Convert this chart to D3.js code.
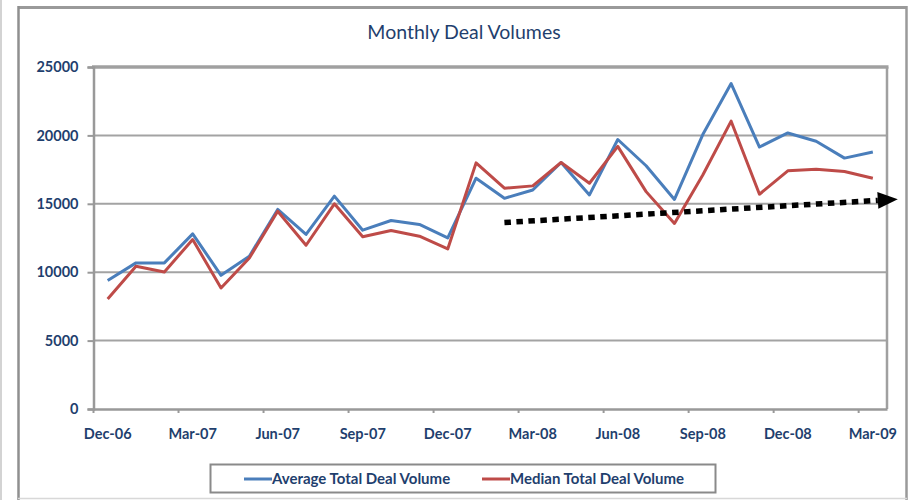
<!DOCTYPE html>
<html><head><meta charset="utf-8">
<script src="https://cdn.jsdelivr.net/npm/d3@7"></script>
<style>html,body{margin:0;padding:0;background:#fff}svg{display:block}</style>
</head><body>
<svg id="chart" width="911" height="500"></svg>
<script>
const months = ["Dec-06","Jan-07","Feb-07","Mar-07","Apr-07","May-07","Jun-07","Jul-07","Aug-07","Sep-07","Oct-07","Nov-07",
  "Dec-07","Jan-08","Feb-08","Mar-08","Apr-08","May-08","Jun-08","Jul-08","Aug-08","Sep-08","Oct-08","Nov-08",
  "Dec-08","Jan-09","Feb-09","Mar-09"];
const avgVolume = [9400,10680,10680,12800,9770,11170,14590,12760,15560,13070,13780,13490,
  12510,16870,15400,16010,18020,15650,19700,17780,15320,20060,23790,19150,20180,19570,18340,18790];
const medianVolume = [8040,10430,10020,12390,8850,11040,14460,11970,15000,12590,13050,12630,
  11700,17990,16140,16310,18020,16500,19200,15890,13560,17110,21040,15700,17410,17530,17360,16870];
const yTicks = [0,5000,10000,15000,20000,25000];
const xTickLabels = ["Dec-06","Mar-07","Jun-07","Sep-07","Dec-07","Mar-08","Jun-08","Sep-08","Dec-08","Mar-09"];
const seriesNames = ["Average Total Deal Volume","Median Total Deal Volume"];
const trendMonths = ["Feb-08","Mar-09"];
const trendValues = [13630,15250];

const svg = d3.select("#chart");
const navy = "#1f3f6e";
const font = "Lato, 'Open Sans', sans-serif";

// outer frame
svg.append("line").attr("x1",1).attr("x2",1).attr("y1",0).attr("y2",500).attr("stroke","#c4c4c4").attr("stroke-width",1.5);
svg.append("line").attr("x1",18).attr("x2",907).attr("y1",7.5).attr("y2",7.5).attr("stroke","#9a9a9a").attr("stroke-width",3);
svg.append("line").attr("x1",18.5).attr("x2",18.5).attr("y1",6).attr("y2",500).attr("stroke","#8f8f8f").attr("stroke-width",2.5);
svg.append("line").attr("x1",906.5).attr("x2",906.5).attr("y1",6).attr("y2",500).attr("stroke","#9a9a9a").attr("stroke-width",2.5);
svg.append("line").attr("x1",18).attr("x2",907).attr("y1",498.5).attr("y2",498.5).attr("stroke","#d8d8d8").attr("stroke-width",1.5);

const x = d3.scaleBand().domain(months).range([93.5, 887]).padding(0);
const xc = m => x(m) + x.bandwidth()/2;
const y = d3.scaleLinear().domain([0,25000]).range([409,67]);

// title
svg.append("text").attr("x",464).attr("y",38.5).attr("text-anchor","middle")
  .attr("font-family",font).attr("font-size",19.5).attr("fill",navy).text("Monthly Deal Volumes");

// gridlines
svg.append("g").selectAll("line").data(yTicks.filter(d=>d>0 && d<25000)).join("line")
  .attr("x1",93.5).attr("x2",887).attr("y1",d=>y(d)).attr("y2",d=>y(d))
  .attr("stroke","#a3a3a3").attr("stroke-width",2);
// plot border top/right
svg.append("line").attr("x1",92).attr("x2",888.5).attr("y1",y(25000)).attr("y2",y(25000)).attr("stroke","#a0a0a0").attr("stroke-width",3.5);
svg.append("line").attr("x1",887).attr("x2",887).attr("y1",y(25000)).attr("y2",y(0)).attr("stroke","#a0a0a0").attr("stroke-width",2.5);

// y axis
const yAxis = svg.append("g").attr("transform","translate(93.5,0)")
  .call(d3.axisLeft(y).tickValues(yTicks).tickFormat(d3.format("d")).tickSize(6).tickPadding(9));
yAxis.select(".domain").attr("stroke","#999").attr("stroke-width",2.5);
yAxis.selectAll(".tick line").attr("stroke","#999").attr("stroke-width",2);
yAxis.selectAll("text").attr("font-family",font).attr("font-size",14.5).attr("font-weight","bold").attr("fill",navy);

// x axis
const xAxis = svg.append("g").attr("transform",`translate(0,${y(0)})`)
  .call(d3.axisBottom(x).tickValues(xTickLabels).tickSize(0).tickPadding(20));
xAxis.select(".domain").attr("stroke","#999").attr("stroke-width",2.5);
xAxis.selectAll("text").attr("font-family",font).attr("font-size",14.5).attr("font-weight","bold").attr("fill",navy);
// tick marks at category boundaries every 3 months
svg.append("g").selectAll("line").data(xTickLabels).join("line")
  .attr("x1",d=>x(d)).attr("x2",d=>x(d)).attr("y1",y(0)).attr("y2",y(0)+4)
  .attr("stroke","#999").attr("stroke-width",2);

// series
const line = d3.line().x((d,i)=>xc(months[i])).y(d=>y(d));
const colors = ["#4a7ebb","#be4b48"];
[avgVolume, medianVolume].forEach((s,k)=>{
  svg.append("path").datum(s).attr("d",line).attr("fill","none")
    .attr("stroke",colors[k]).attr("stroke-width",3).attr("stroke-linejoin","round");
});

// trend arrow
const x0 = xc(trendMonths[0]), y0 = y(trendValues[0]);
const x1 = xc(trendMonths[1]) + 5, y1 = y(trendValues[1]);
svg.append("line").attr("x1",x0).attr("y1",y0).attr("x2",x1).attr("y2",y1)
  .attr("stroke","#000").attr("stroke-width",5.5).attr("stroke-dasharray","6.5,5.5");
const ang = Math.atan2(y1-y0, x1-x0);
const ux = Math.cos(ang), uy = Math.sin(ang);
const tip = [x1 + 20*ux, y1 + 20*uy];
svg.append("polygon").attr("fill","#000")
  .attr("points",[[x1 - 8.5*uy, y1 + 8.5*ux],[x1 + 8.5*uy, y1 - 8.5*ux],tip].map(p=>p.join(",")).join(" "));

// legend
const lg = svg.append("g");
lg.append("rect").attr("x",210.5).attr("y",464.5).attr("width",505).attr("height",28)
  .attr("fill","#fff").attr("stroke","#8a8a8a").attr("stroke-width",2);
const legendX = [244, 482];
seriesNames.forEach((n,k)=>{
  lg.append("line").attr("x1",legendX[k]).attr("x2",legendX[k]+28).attr("y1",479).attr("y2",479)
    .attr("stroke",colors[k]).attr("stroke-width",3);
  lg.append("text").attr("x",legendX[k]+28).attr("y",479).attr("dy","0.35em")
    .attr("font-family",font).attr("font-size",15).attr("font-weight","bold").attr("fill",navy).text(n);
});
</script>
</body></html>
